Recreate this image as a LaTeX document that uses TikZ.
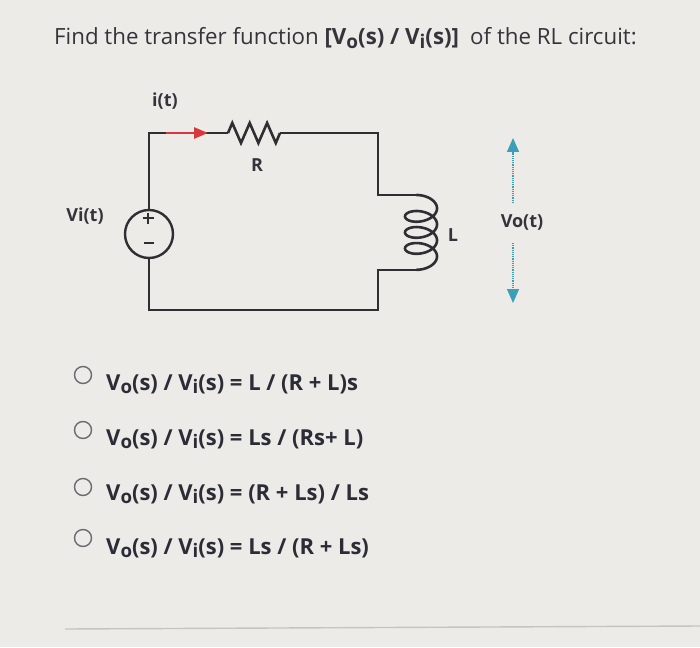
\documentclass[tikz,border=0pt]{standalone}
\usepackage{fontspec}
\setmainfont{Open Sans}
\usetikzlibrary{arrows.meta}
\definecolor{bgcol}{HTML}{ECEBE8}
\definecolor{wirecol}{HTML}{2E2E33}
\definecolor{txtcol}{HTML}{34343A}
\definecolor{optcol}{HTML}{2C2C36}
\definecolor{redcol}{HTML}{D8383C}
\definecolor{tealcol}{HTML}{3C9FB8}
\definecolor{ringcol}{HTML}{6A6A70}
\definecolor{hlinecol}{HTML}{C4C4C2}
\newcommand{\lsub}[1]{\raisebox{-0.3ex}{\scalebox{0.85}{#1}}}
\begin{document}
\begin{tikzpicture}[x=1pt,y=-1pt,
  wire/.style={line width=2.6pt, draw=wirecol, line join=miter},
  sym/.style={line width=2.2pt, draw=wirecol},
  source/.style={circle, draw=wirecol, line width=2.4pt, minimum size=48pt, inner sep=0pt},
  redarrow/.style={line width=2.6pt, draw=redcol, -{Triangle[length=14pt,width=11pt]}},
  vdot/.style={line width=1.4pt, draw=tealcol, dash pattern=on 1.2pt off 1pt, -{Triangle[length=14pt,width=12pt,fill=tealcol]}},
  lab/.style={font=\fontsize{18}{21}\selectfont\bfseries, text=txtcol, inner sep=0pt},
  title/.style={font=\fontsize{22.3}{26}\selectfont, text=txtcol, inner sep=0pt},
  opt/.style={font=\fontsize{22}{26}\selectfont\bfseries, text=optcol, inner sep=0pt},
  ring/.style={circle, draw=ringcol, line width=1.4pt, minimum size=17pt, inner sep=0pt},
  hline/.style={line width=1.4pt, draw=hlinecol}
]
\fill[bgcol] (0,0) rectangle (700,647);
\useasboundingbox (0,0) rectangle (700,647);

% title
\node[title, anchor=base west] (title) at (54,45)
  {Find the transfer function {\bfseries [V\lsub{o}(s) / V\lsub{i}(s)]}\enspace of the RL circuit:};

% circuit coordinates
\coordinate (tl) at (149,133);
\coordinate (ia) at (166,133);
\coordinate (ib) at (208,133);
\coordinate (ra) at (228,133);
\coordinate (rb) at (280,133);
\coordinate (tr) at (378,133);
\coordinate (lt) at (378,195);
\coordinate (la) at (416.5,195);
\coordinate (lb) at (416.5,269.8);
\coordinate (lbot) at (378,269.8);
\coordinate (br) at (378,310);
\coordinate (bl) at (149,310);

\node[source] (src) at (149,234) {};
\draw[sym] (142.5,218) -- (153.5,218) (148,212.5) -- (148,223.5);
\draw[sym] (144,243) -- (154,243);

\draw[wire] (src.north) -- (tl) -- (ra);
\draw[wire] (ra) -- ++(4.3,-10) -- ++(8.7,20) -- ++(8.7,-20) -- ++(8.7,20)
  -- ++(8.7,-20) -- ++(8.7,20) -- (rb);
\draw[wire] (rb) -- (tr) -- (lt) -- (la);
\draw[wire] plot[domain=-0.2873:22.2785, samples=280, variable=\t, smooth]
  ({421+16*sin(\t r)}, {204.36+2.55*\t-9*cos(\t r)});
\draw[wire] (lb) -- (lbot) -- (br) -- (bl) -- (src.south);

\draw[redarrow] (ia) -- (ib);

% labels
\node[lab] (it) at (165,101) {i(t)};
\node[lab] (rl) at (257,165) {R};
\node[lab] (vil) at (85,216) {Vi(t)};
\node[lab] (ll) at (453,235) {L};
\node[lab] (vol) at (522,222) {Vo(t)};

% Vo arrows
\coordinate (v1) at (513,203);
\coordinate (v2) at (513,138);
\coordinate (v3) at (513,243);
\coordinate (v4) at (513,303);
\draw[vdot] (v1) -- (v2);
\draw[vdot] (v3) -- (v4);

% options
\node[ring] (c1) at (83,375) {};
\node[opt, anchor=base west] (o1) at (106,390) {V\lsub{o}(s) / V\lsub{i}(s) = L / (R + L)s};
\node[ring] (c2) at (83,430) {};
\node[opt, anchor=base west] (o2) at (106,445) {V\lsub{o}(s) / V\lsub{i}(s) = Ls / (Rs+ L)};
\node[ring] (c3) at (83,487) {};
\node[opt, anchor=base west] (o3) at (106,500) {V\lsub{o}(s) / V\lsub{i}(s) = (R + Ls) / Ls};
\node[ring] (c4) at (83,538) {};
\node[opt, anchor=base west] (o4) at (106,554) {V\lsub{o}(s) / V\lsub{i}(s) = Ls / (R + Ls)};

% bottom rule
\coordinate (ha) at (65,629);
\coordinate (hb) at (700,626);
\draw[hline] (ha) -- (hb);
\end{tikzpicture}
\end{document}
